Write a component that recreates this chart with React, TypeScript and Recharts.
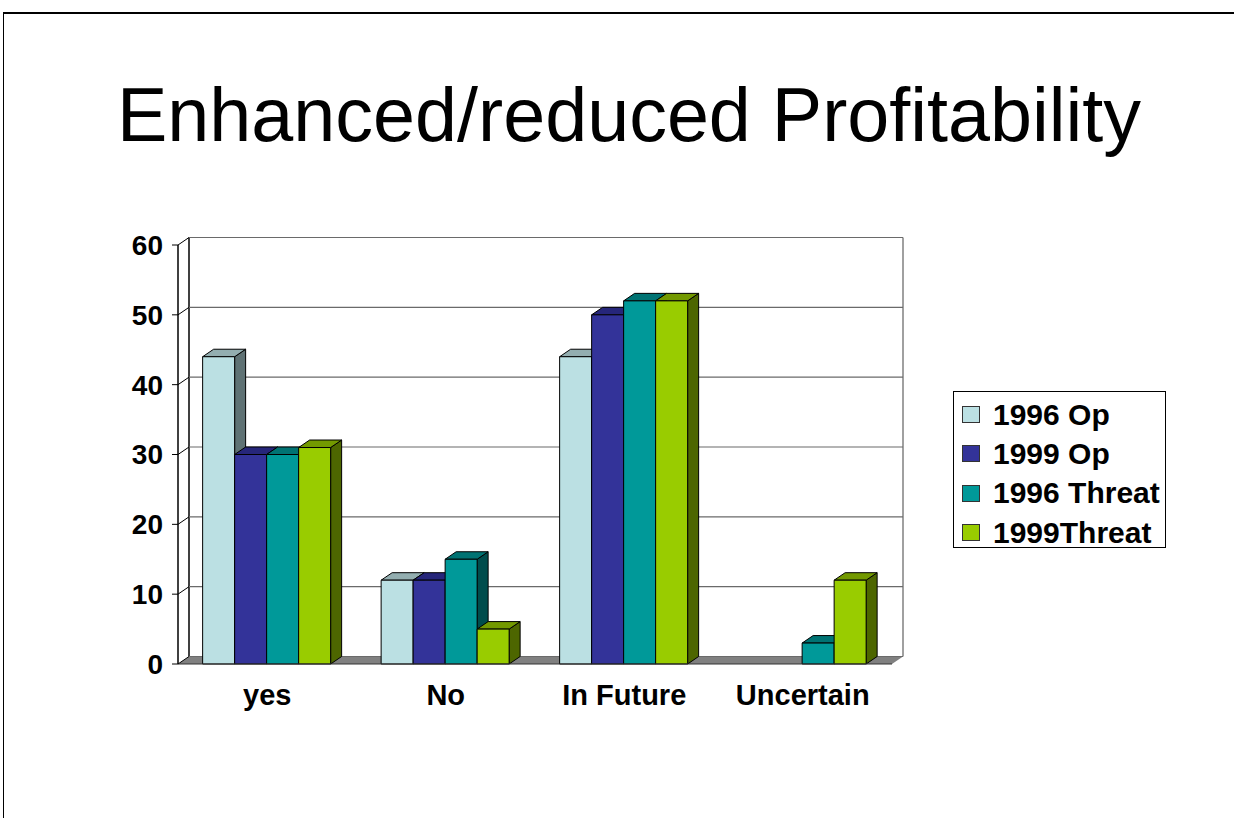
import { BarChart, Bar, XAxis, YAxis, CartesianGrid, Legend } from "recharts"

const categories = ["yes", "No", "In Future", "Uncertain"]
const op1996 = [44, 12, 44, 0]
const op1999 = [30, 12, 50, 0]
const threat1996 = [30, 15, 52, 3]
const threat1999 = [31, 5, 52, 12]
const yTicks = [0, 10, 20, 30, 40, 50, 60]
const edgeTicks = [0, 1, 2, 3, 4]

const series = [
  { key: "op1996", name: "1996 Op", front: "#BBE0E3", top: "#93AEB0", side: "#5F7274" },
  { key: "op1999", name: "1999 Op", front: "#333399", top: "#26267A", side: "#1A1A4D" },
  { key: "threat1996", name: "1996 Threat", front: "#009999", top: "#007373", side: "#004D4D" },
  { key: "threat1999", name: "1999Threat", front: "#99CC00", top: "#739900", side: "#4D6600" },
]
const seriesNames = series.map((s) => s.name)

const data = categories.map((category, i) => ({
  category,
  op1996: op1996[i],
  op1999: op1999[i],
  threat1996: threat1996[i],
  threat1999: threat1999[i],
}))

const FONT = "'Liberation Sans', Arial, sans-serif"
const W = 1234
const H = 818
// front plane of the plot
const LEFT = 178
const RIGHT = 892
const TOP = 245
const BOTTOM = 664
// 3d depth offset
const DX = 11
const DY = 7.5

const box3D = (front: string, top: string, side: string) => (p: any) => {
  const { x, y, width: w, height: h } = p
  if (!h || h <= 0) return <g />
  return (
    <g stroke="#000" strokeWidth={1} strokeLinejoin="round">
      <polygon
        points={`${x + w},${y} ${x + w + DX},${y - DY} ${x + w + DX},${y + h - DY} ${x + w},${y + h}`}
        fill={side}
      />
      <polygon
        points={`${x},${y} ${x + DX},${y - DY} ${x + w + DX},${y - DY} ${x + w},${y}`}
        fill={top}
      />
      <rect x={x} y={y} width={w} height={h} fill={front} />
    </g>
  )
}

const backGridLine = (p: any) => {
  const { x1, x2, y1 } = p
  return (
    <g key={p.key}>
      <line x1={x1} y1={y1} x2={x1 + DX} y2={y1 - DY} stroke="#000" />
      <line x1={x1 + DX} y1={y1 - DY} x2={x2 + DX} y2={y1 - DY} stroke="#6a6a6a" strokeWidth={1.2} />
    </g>
  )
}

const CategoryTick = ({ x, y, payload }: any) => (
  <text
    x={x}
    y={y + 41}
    textAnchor="middle"
    fontFamily={FONT}
    fontWeight="bold"
    fontSize={29}
    fill="#000"
  >
    {payload.value}
  </text>
)

const LegendBox = ({ payload }: any) => {
  // keep the series order, not alphabetical
  const items = [...(payload || [])].sort(
    (a: any, b: any) => seriesNames.indexOf(a.value) - seriesNames.indexOf(b.value)
  )
  return (
    <div
      style={{
        border: "1px solid #000",
        background: "#fff",
        padding: "3px 8px",
        width: 213,
        height: 157,
        boxSizing: "border-box",
        fontFamily: FONT,
        fontWeight: "bold",
        fontSize: 30,
        color: "#000",
      }}
    >
      {items.map((item: any) => (
        <div
          key={item.value}
          style={{ display: "flex", alignItems: "center", height: 39.3, lineHeight: 1 }}
        >
          <span
            style={{
              display: "inline-block",
              width: 16,
              height: 15,
              background: item.color,
              border: "1px solid #333",
              marginRight: 13,
              flexShrink: 0,
            }}
          />
          <span style={{ whiteSpace: "nowrap" }}>{item.value}</span>
        </div>
      ))}
    </div>
  )
}

export default function App() {
  return (
    <div style={{ position: "absolute", left: 0, top: 0, width: W, height: H, background: "#fff" }}>
      {/* slide frame */}
      <div
        style={{
          position: "absolute",
          left: 3,
          top: 12,
          width: W - 3,
          height: H - 12,
          borderTop: "2px solid #000",
          borderLeft: "1px solid #000",
        }}
      />
      <div
        style={{
          position: "absolute",
          left: 117,
          top: 78,
          fontFamily: FONT,
          fontSize: 75.5,
          lineHeight: 1,
          whiteSpace: "nowrap",
          color: "#000",
        }}
      >
        Enhanced/reduced Profitability
      </div>

      {/* back wall and floor */}
      <svg style={{ position: "absolute", left: 0, top: 0 }} width={W} height={H}>
        <polygon
          points={`${LEFT},${BOTTOM} ${RIGHT},${BOTTOM} ${RIGHT + DX},${BOTTOM - DY} ${LEFT + DX},${BOTTOM - DY}`}
          fill="#808080"
        />
        <line x1={LEFT + DX} y1={TOP - DY} x2={LEFT + DX} y2={BOTTOM - DY} stroke="#000" strokeWidth={1.5} />
        <line x1={RIGHT + DX} y1={TOP - DY} x2={RIGHT + DX} y2={BOTTOM - DY} stroke="#808080" strokeWidth={1.5} />
      </svg>

      <div style={{ position: "absolute", left: 0, top: 0 }}>
        <BarChart
          width={W}
          height={H}
          data={data}
          margin={{ top: TOP, right: W - RIGHT, left: LEFT - 60, bottom: H - BOTTOM - 50 }}
          barGap={0}
          barCategoryGap="13.8%"
        >
          <CartesianGrid vertical={false} horizontal={backGridLine} />
          <XAxis
            xAxisId="edge"
            type="number"
            domain={[0, 4]}
            ticks={edgeTicks}
            allowDataOverflow
            tick={false}
            axisLine={false}
            tickLine={{ stroke: "#000" }}
            tickSize={8}
            height={0}
          />
          <XAxis
            dataKey="category"
            axisLine={{ stroke: "#333" }}
            tickLine={false}
            tickSize={0}
            tickMargin={0}
            height={50}
            tick={<CategoryTick />}
          />
          <YAxis
            domain={[0, 60]}
            ticks={yTicks}
            width={60}
            axisLine={{ stroke: "#000", strokeWidth: 1.5 }}
            tickLine={{ stroke: "#000" }}
            tickSize={6}
            tickMargin={9}
            tick={{ fontFamily: FONT, fontWeight: "bold", fontSize: 28, fill: "#000" }}
          />
          <Legend
            layout="horizontal"
            align="center"
            verticalAlign="middle"
            wrapperStyle={{ position: "absolute", left: 953, top: 391, width: 213, height: 157 }}
            content={<LegendBox />}
          />
          {series.map((s) => (
            <Bar
              key={s.key}
              dataKey={s.key}
              name={s.name}
              fill={s.front}
              isAnimationActive={false}
              shape={box3D(s.front, s.top, s.side)}
            />
          ))}
        </BarChart>
      </div>
    </div>
  )
}
